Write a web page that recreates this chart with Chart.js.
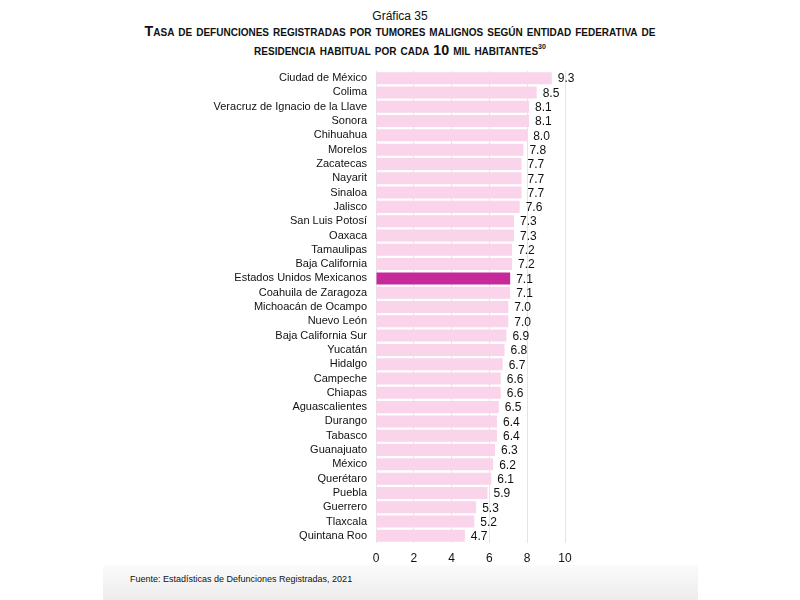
<!DOCTYPE html>
<html>
<head>
<meta charset="utf-8">
<script src="https://cdn.jsdelivr.net/npm/chart.js@4"></script>
<style>
  body { margin: 0; background: #fff; font-family: "Liberation Sans", Arial, sans-serif; }
  #wrap { position: relative; width: 800px; height: 600px; overflow: hidden; }
  #sub { position: absolute; top: 9px; left: 0; width: 800px; text-align: center; font-size: 12px; color: #111; }
  #title { position: absolute; top: 24px; left: 0; width: 800px; text-align: center; font-size: 14.3px; font-weight: bold;
           font-variant: small-caps; line-height: 15px; color: #111; }
  #title sup { font-size: 7px; }
  #footer { position: absolute; left: 103px; top: 565px; width: 595px; height: 35px;
            background: linear-gradient(#fbfbfb, #ececec); }
  #fuente { position: absolute; left: 130px; top: 574px; font-size: 9px; color: #111; }
  canvas { position: absolute; left: 0; top: 0; }
</style>
</head>
<body>
<div id="wrap">
  <div id="footer"></div>
  <div id="sub">Gráfica 35</div>
  <div id="title">Tasa de defunciones registradas por tumores malignos según entidad federativa de<br>residencia habitual por cada 10 mil habitantes<sup>30</sup></div>
  <div id="fuente">Fuente: Estadísticas de Defunciones Registradas, 2021</div>
  <canvas id="chart" width="800" height="600"></canvas>
</div>
<script>
// entidades, ordenadas de mayor a menor tasa
const entidades = [
  'Ciudad de México', 'Colima', 'Veracruz de Ignacio de la Llave', 'Sonora', 'Chihuahua',
  'Morelos', 'Zacatecas', 'Nayarit', 'Sinaloa', 'Jalisco', 'San Luis Potosí', 'Oaxaca',
  'Tamaulipas', 'Baja California', 'Estados Unidos Mexicanos', 'Coahuila de Zaragoza',
  'Michoacán de Ocampo', 'Nuevo León', 'Baja California Sur', 'Yucatán', 'Hidalgo',
  'Campeche', 'Chiapas', 'Aguascalientes', 'Durango', 'Tabasco', 'Guanajuato', 'México',
  'Querétaro', 'Puebla', 'Guerrero', 'Tlaxcala', 'Quintana Roo'
];
const tasas = [
  9.3, 8.5, 8.1, 8.1, 8.0, 7.8, 7.7, 7.7, 7.7, 7.6, 7.3, 7.3,
  7.2, 7.2, 7.1, 7.1, 7.0, 7.0, 6.9, 6.8, 6.7, 6.6, 6.6, 6.5,
  6.4, 6.4, 6.3, 6.2, 6.1, 5.9, 5.3, 5.2, 4.7
];
const ticksX = [0, 2, 4, 6, 8, 10];
const nacional = 'Estados Unidos Mexicanos';

const colores = entidades.map(e => e === nacional ? '#c8299a' : '#f9d4ea');

// escribe el valor al final de cada barra
const etiquetas = {
  id: 'etiquetas',
  afterDatasetsDraw(chart) {
    const ctx = chart.ctx;
    const meta = chart.getDatasetMeta(0);
    ctx.save();
    ctx.font = '12px "Liberation Sans", Arial, sans-serif';
    ctx.fillStyle = '#111';
    ctx.textBaseline = 'middle';
    ctx.textAlign = 'left';
    meta.data.forEach((bar, i) => {
      ctx.fillText(tasas[i].toFixed(1), bar.x + 6, bar.y + 1);
    });
    ctx.restore();
  }
};

new Chart(document.getElementById('chart').getContext('2d'), {
  type: 'bar',
  data: {
    labels: entidades,
    datasets: [{
      data: tasas,
      backgroundColor: colores,
      borderWidth: 0,
      categoryPercentage: 1,
      barPercentage: 0.84
    }]
  },
  options: {
    indexAxis: 'y',
    responsive: false,
    animation: false,
    layout: { padding: { left: 0, right: 235, top: 71, bottom: 33 } },
    plugins: { legend: { display: false }, tooltip: { enabled: false } },
    scales: {
      x: {
        min: 0,
        max: 10,
        afterBuildTicks: axis => { axis.ticks = ticksX.map(v => ({ value: v })); },
        afterFit: axis => { axis.height = 24; },
        grid: { color: '#e4e4e4', drawTicks: false },
        border: { display: false },
        ticks: { padding: 8, color: '#111', font: { size: 12, family: '"Liberation Sans", Arial, sans-serif' } }
      },
      y: {
        afterFit: axis => { axis.width = 376; },
        grid: { display: false, drawTicks: false },
        border: { display: false },
        ticks: { padding: 9, color: '#111', autoSkip: false,
                 font: { size: 11, family: '"Liberation Sans", Arial, sans-serif' } }
      }
    }
  },
  plugins: [etiquetas]
});
</script>
</body>
</html>
